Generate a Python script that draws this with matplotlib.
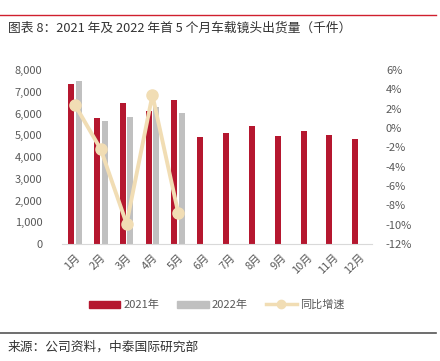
import numpy as np
import matplotlib.pyplot as plt
from matplotlib.lines import Line2D
from matplotlib.patches import Patch
from matplotlib.ticker import FuncFormatter

plt.rcParams['font.family'] = ['Noto Sans CJK SC', 'DejaVu Sans']

# data (thousand units)
months = ['1月', '2月', '3月', '4月', '5月', '6月', '7月', '8月', '9月', '10月', '11月', '12月']
ship_2021 = [7340, 5780, 6480, 6110, 6600, 4920, 5100, 5430, 4980, 5180, 5000, 4810]
ship_2022 = [7510, 5660, 5840, 6310, 6020]
yoy = [2.4, -2.2, -9.9, 3.4, -8.8]  # percent

red = '#B5172F'
grey = '#C0C0C0'
beige = '#F1DDB4'
txt = '#595959'

fig = plt.figure(figsize=(4.4, 3.61), dpi=100)
ax = fig.add_axes([62 / 440, 1 - 244 / 361, 310 / 440, 174 / 361])

x = np.arange(len(months))
w = 0.23
ax.bar(x - 0.15, ship_2021, width=w, color=red, zorder=2)
ax.bar(x[:len(ship_2022)] + 0.15, ship_2022, width=w, color=grey, zorder=2)

ax.set_xlim(-0.5, len(months) - 0.5)
ax.set_ylim(0, 8000)
ax.set_yticks(np.arange(0, 8001, 1000))
ax.yaxis.set_major_formatter(FuncFormatter(lambda v, p: f'{int(v):,}'))
ax.set_xticks(x)
ax.set_xticklabels(months, rotation=45, ha='right', rotation_mode='anchor')
for s in ['top', 'right', 'left']:
    ax.spines[s].set_visible(False)
ax.spines['bottom'].set_color('#D9D9D9')
ax.tick_params(axis='both', length=0, labelsize=8, colors=txt)
ax.tick_params(axis='y', pad=14)
ax.tick_params(axis='x', pad=6)

ax2 = ax.twinx()
ax2.plot(x[:len(yoy)], yoy, color=beige, lw=2.8, marker='o', ms=8, zorder=3)
ax2.set_ylim(-12, 6)
ax2.set_yticks(np.arange(-12, 7, 2))
ax2.yaxis.set_major_formatter(FuncFormatter(lambda v, p: f'{int(v)}%'))
for s in ax2.spines.values():
    s.set_visible(False)
ax2.tick_params(axis='y', length=0, labelsize=8, colors=txt, pad=10)

handles = [Patch(color=red), Patch(color=grey),
           Line2D([], [], color=beige, lw=2.5, marker='o', ms=6)]
fig.legend(handles, ['2021年', '2022年', '同比增速'], loc='center', ncol=3,
           bbox_to_anchor=(217 / 440, 1 - 305 / 361), frameon=False,
           fontsize=8, labelcolor=txt, handlelength=2.8, handleheight=0.6,
           columnspacing=1.6, handletextpad=0.3)

# frame lines and captions
fig.add_artist(Line2D([0, 436 / 440], [1 - 15 / 361] * 2, color='#D0202E', lw=1.0))
fig.add_artist(Line2D([0, 436 / 440], [1 - 333 / 361] * 2, color='#555555', lw=1.2))
fig.text(8 / 440, 1 - 28 / 361, '图表 8：2021 年及 2022 年首 5 个月车载镜头出货量（千件）',
         fontsize=9.2, color='#333333', va='center')
fig.text(8 / 440, 1 - 347 / 361, '来源：公司资料，中泰国际研究部',
         fontsize=9.2, color='#333333', va='center')

fig.savefig('out.png', dpi=100)
